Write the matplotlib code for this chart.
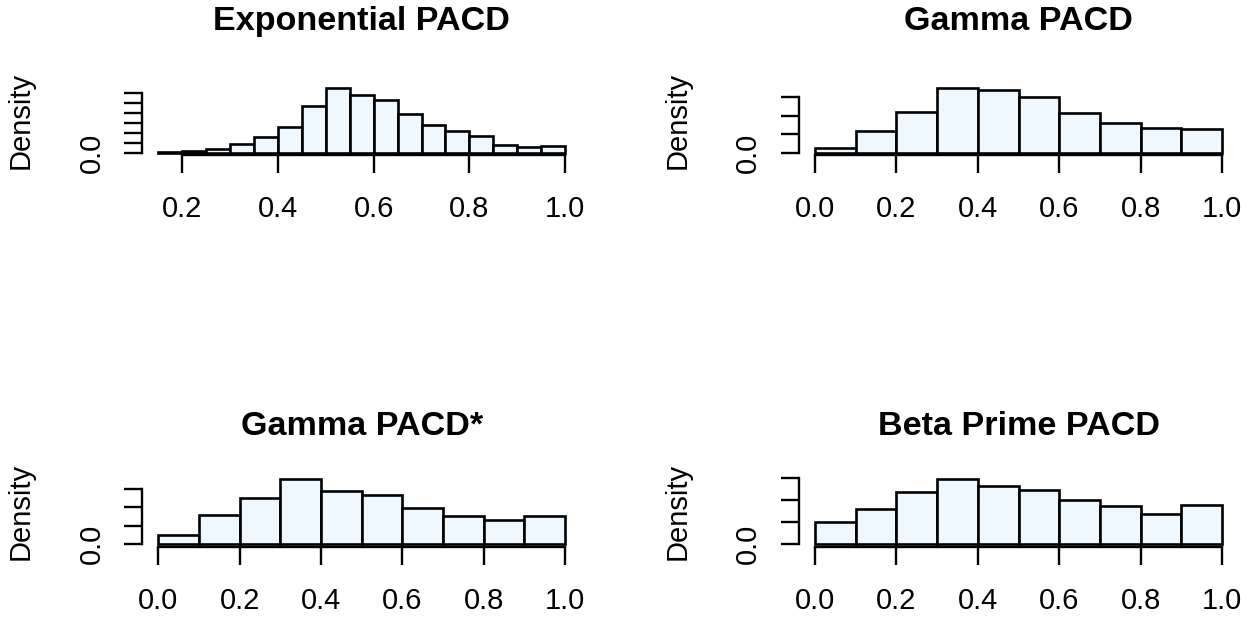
import matplotlib
matplotlib.use("Agg")
import matplotlib.pyplot as plt

plt.rcParams['font.family'] = ['Liberation Sans', 'DejaVu Sans']

# ---------------- data ----------------
titles = ["Exponential PACD", "Gamma PACD", "Gamma PACD*", "Beta Prime PACD"]

exp_breaks = [0.15, 0.20, 0.25, 0.30, 0.35, 0.40, 0.45, 0.50, 0.55, 0.60,
              0.65, 0.70, 0.75, 0.80, 0.85, 0.90, 0.95, 1.00]
exp_density = [0.04, 0.10, 0.17, 0.45, 0.80, 1.26, 2.34, 3.22, 2.89, 2.62,
               1.94, 1.40, 1.09, 0.85, 0.39, 0.27, 0.32]

unit_breaks = [0.0, 0.1, 0.2, 0.3, 0.4, 0.5, 0.6, 0.7, 0.8, 0.9, 1.0]
gamma_density = [0.12, 0.60, 1.10, 1.75, 1.71, 1.51, 1.08, 0.81, 0.66, 0.64]
gamma_star_density = [0.24, 0.79, 1.25, 1.76, 1.44, 1.33, 0.98, 0.76, 0.65, 0.75]
betaprime_density = [0.51, 0.80, 1.18, 1.47, 1.32, 1.22, 1.00, 0.87, 0.68, 0.89]

exp_xticks = [0.2, 0.4, 0.6, 0.8, 1.0]
unit_xticks = [0.0, 0.2, 0.4, 0.6, 0.8, 1.0]
exp_yticks = [0.0, 0.5, 1.0, 1.5, 2.0, 2.5, 3.0]
other_yticks = [0.0, 0.5, 1.0, 1.5]

panels = [
    (titles[0], exp_breaks, exp_density, exp_xticks, exp_yticks),
    (titles[1], unit_breaks, gamma_density, unit_xticks, other_yticks),
    (titles[2], unit_breaks, gamma_star_density, unit_xticks, other_yticks),
    (titles[3], unit_breaks, betaprime_density, unit_xticks, other_yticks),
]

# ---------------- layout (pixels) ----------------
W, H = 1258, 623
fig = plt.figure(figsize=(W / 100, H / 100), dpi=100)

cols = [(142.1, 581.3), (798.7, 1238.3)]
rows = [(85.5, 155.3), (476.8, 546.6)]
title_pads = [40.3, 30.1]

LW = 1.9
FS = 21
TFS = 24.6
for i, (title, breaks, dens, xt, yt) in enumerate(panels):
    r, c = divmod(i, 2)
    l, rr = cols[c]
    t, b = rows[r]
    ax = fig.add_axes([l / W, 1 - b / H, (rr - l) / W, (b - t) / H])
    lefts = breaks[:-1]
    widths = [breaks[k + 1] - breaks[k] for k in range(len(breaks) - 1)]
    ax.bar(lefts, dens, width=widths, align='edge', color='aliceblue',
           edgecolor='black', linewidth=LW, zorder=2)
    x0, x1 = breaks[0], breaks[-1]
    dx = (x1 - x0) * 0.04
    ax.set_xlim(x0 - dx, x1 + dx)
    m = max(dens)
    ax.set_ylim(-0.04 * m, 1.04 * m)

    for s in ['top', 'right']:
        ax.spines[s].set_visible(False)
    ax.spines['bottom'].set_bounds(xt[0], xt[-1])
    ax.spines['left'].set_bounds(yt[0], yt[-1])
    for s in ['bottom', 'left']:
        ax.spines[s].set_linewidth(1.7)

    ax.set_xticks(xt)
    ax.set_xticklabels([f"{v:.1f}" for v in xt])
    ax.set_yticks(yt)
    ax.set_yticklabels(["0.0"] + [""] * (len(yt) - 1), rotation=90, va='center')
    ax.tick_params(axis='both', length=13.3, width=1.7, labelsize=FS)
    ax.tick_params(axis='x', pad=15.5)
    ax.tick_params(axis='y', pad=13)

    ax.set_ylabel("Density", fontsize=FS, va='center')
    ax.yaxis.set_label_coords(-121.0 / (rr - l), 0.5)
    ax.set_title(title, fontsize=TFS, fontweight='bold', pad=title_pads[r])
    ax.patch.set_visible(False)

fig.savefig("out.png", dpi=100)
